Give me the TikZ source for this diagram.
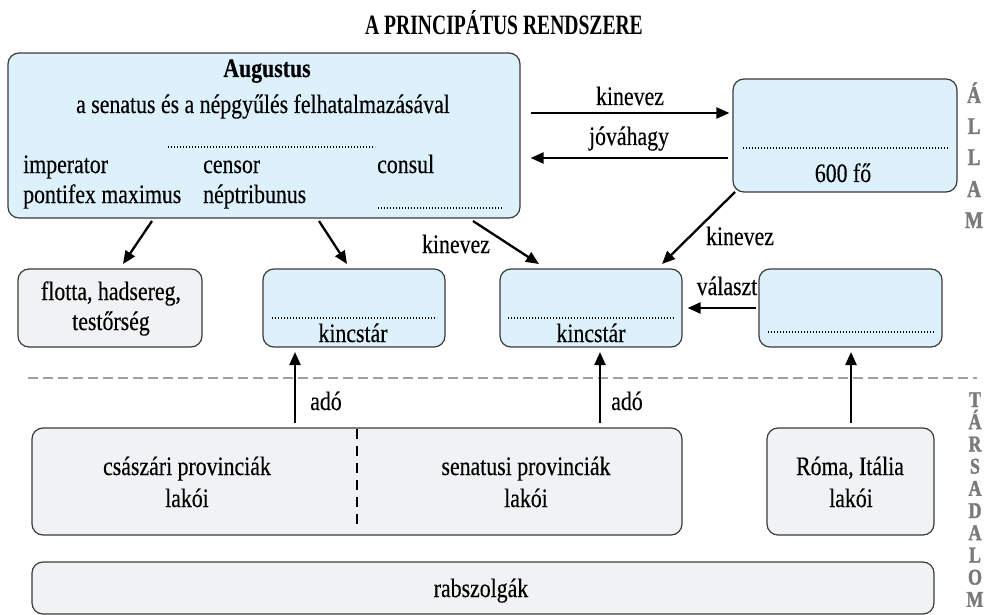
\documentclass[tikz,border=0pt]{standalone}
\usepackage{fontspec}
\setmainfont[FakeStretch=0.82,FakeBold=0.3]{Liberation Serif}
\newfontfamily\titlefont[FakeStretch=0.70]{Liberation Serif}
\newfontfamily\sidefont[FakeStretch=0.80,FakeBold=1.5]{Liberation Serif}
\usetikzlibrary{arrows.meta}
\definecolor{boxblue}{HTML}{DDF1FC}
\definecolor{boxgray}{HTML}{F1F2F4}
\definecolor{edge}{HTML}{3A3A3A}
\definecolor{sidegray}{HTML}{7A7A7A}
\definecolor{dashgray}{HTML}{A0A0A0}
\begin{document}
\begin{tikzpicture}[x=1pt,y=-1pt,
  box/.style={draw=edge, line width=1.2pt, rounded corners=11pt, inner sep=0pt},
  bluebox/.style={box, fill=boxblue},
  graybox/.style={box, fill=boxgray},
  txt/.style={font=\fontsize{26.6}{30}\selectfont, inner sep=0pt, anchor=base},
  ltxt/.style={txt, anchor=base west},
  arr/.style={line width=2.3pt, -{Triangle[length=13pt,width=11pt]}},
  dotline/.style={line width=1.1pt, dash pattern=on 1.1pt off 1.9pt},
  side/.style={font=\sidefont\bfseries\fontsize{24}{24}\selectfont, text=sidegray, inner sep=0pt, anchor=base},
  sidet/.style={font=\sidefont\bfseries\fontsize{22.5}{22.5}\selectfont, text=sidegray, inner sep=0pt, anchor=base},
  divider/.style={line width=1.8pt, dash pattern=on 10pt off 7pt},
  hdash/.style={line width=2pt, draw=dashgray, dash pattern=on 10pt off 5pt}
]
\useasboundingbox (0,0) rectangle (985,615);

% title
\node[anchor=base, inner sep=0pt, font=\titlefont\bfseries\fontsize{28}{28}\selectfont] (title) at (504,35) {A PRINCIPÁTUS RENDSZERE};

% boxes
\node[bluebox, minimum width=512pt, minimum height=165pt] (aug) at (264,135.5) {};
\node[bluebox, minimum width=224pt, minimum height=113pt] (sen) at (845,135.5) {};
\node[graybox, minimum width=184pt, minimum height=78pt] (flotta) at (110,308) {};
\node[bluebox, minimum width=182pt, minimum height=78pt] (kincs1) at (354,308) {};
\node[bluebox, minimum width=182pt, minimum height=78pt] (kincs2) at (591,308) {};
\node[bluebox, minimum width=183pt, minimum height=78pt] (nep) at (850.5,308) {};
\node[graybox, minimum width=650pt, minimum height=107pt] (prov) at (357,481.5) {};
\node[graybox, minimum width=167pt, minimum height=107pt] (roma) at (850.5,481.5) {};
\node[graybox, minimum width=902pt, minimum height=52pt] (rab) at (483,588) {};

% Augustus box texts
\node[txt] (augname) at (267,77) {\bfseries Augustus};
\node[txt] (augsub) at (263,113) {a senatus és a népgyűlés felhatalmazásával};
\draw[dotline] (168,147) -- (375,147);
\node[ltxt] (imp) at (23,173) {imperator};
\node[ltxt] (cens) at (203,173) {censor};
\node[ltxt] (cons) at (377,173) {consul};
\node[ltxt] (pont) at (23,203) {pontifex maximus};
\node[ltxt] (nept) at (203,203) {néptribunus};
\draw[dotline] (378,208) -- (502,208);

% senate box
\draw[dotline] (743,148) -- (948,148);
\node[txt] (fo) at (843,182) {600 fő};

% second row texts
\node[txt] (flt1) at (111,300) {flotta, hadsereg,};
\node[txt] (flt2) at (111,330) {testőrség};
\draw[dotline] (272,318) -- (437,318);
\node[txt] (k1) at (353,342) {kincstár};
\draw[dotline] (508,318) -- (675,318);
\node[txt] (k2) at (591,342) {kincstár};
\draw[dotline] (768,332) -- (935,332);

% society texts
\node[txt] (csa1) at (187,475) {császári provinciák};
\node[txt] (csa2) at (187,507) {lakói};
\node[txt] (sena1) at (526,475) {senatusi provinciák};
\node[txt] (sena2) at (526,507) {lakói};
\node[txt] (rom1) at (850,475) {Róma, Itália};
\node[txt] (rom2) at (851,507) {lakói};
\node[txt] (rabt) at (481,597) {rabszolgák};
\draw[divider] ([yshift=-2pt]prov.north) -- ([yshift=5pt]prov.south);

% separator
\coordinate (hl) at (28,378);
\coordinate (hr) at (977,378);
\draw[hdash] (hl) -- (hr);

% arrows top
\draw[arr, shorten <=10pt, shorten >=3pt] ([yshift=22.5pt]aug.east) -- ([yshift=22.5pt]sen.west);
\node[txt] (lkin1) at (630,105) {kinevez};
\draw[arr, shorten <=4pt, shorten >=10pt] ([yshift=-22.5pt]sen.west) -- ([yshift=-22.5pt]aug.east);
\node[txt] (ljov) at (629,145) {jóváhagy};

% diagonal arrows
\coordinate (d1s) at (152,221); \coordinate (d1e) at (123,264);
\coordinate (d2s) at (319,221); \coordinate (d2e) at (347,264);
\coordinate (d3s) at (473,221); \coordinate (d3e) at (539,264);
\coordinate (d4s) at (735,192); \coordinate (d4e) at (662,264);
\draw[arr] (d1s) -- (d1e);
\draw[arr] (d2s) -- (d2e);
\draw[arr] (d3s) -- (d3e);
\draw[arr] (d4s) -- (d4e);
\node[txt] (lkin2) at (456,253) {kinevez};
\node[txt] (lkin3) at (740,245) {kinevez};

% valaszt
\draw[arr, shorten <=2pt, shorten >=5pt] (nep.west) -- (kincs2.east);
\node[txt] (lval) at (727,295) {választ};

% vertical arrows
\coordinate (v1s) at (295,423); \coordinate (v1e) at (295,352);
\coordinate (v2s) at (600,423); \coordinate (v2e) at (600,352);
\coordinate (v3s) at (851,423); \coordinate (v3e) at (851,352);
\draw[arr] (v1s) -- (v1e);
\draw[arr] (v2s) -- (v2e);
\draw[arr] (v3s) -- (v3e);
\node[txt] (lado1) at (326,410) {adó};
\node[txt] (lado2) at (627,410) {adó};

% side labels
\node[side] (s1) at (974,103) {Á};
\node[side] (s2) at (974,134) {L};
\node[side] (s3) at (974,165) {L};
\node[side] (s4) at (974,197) {A};
\node[side] (s5) at (974,228) {M};
\foreach \ch [count=\i from 0] in {T,Á,R,S,A,D,A,L,O,M} {
  \node[sidet] (t\i) at (975,407+22.2*\i) {\ch};
}
\end{tikzpicture}
\end{document}
